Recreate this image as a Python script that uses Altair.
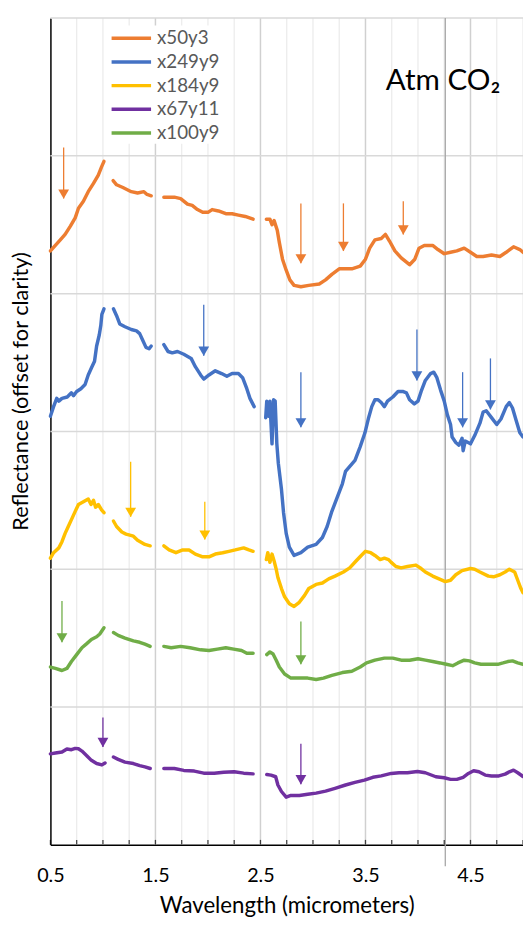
import altair as alt
import pandas as pd

# ---------------- data (wavelength in micrometers, offset reflectance) ----------------
series_names = ["x50y3", "x249y9", "x184y9", "x67y11", "x100y9"]
series_colors = ["#ED7D31", "#4472C4", "#FFC000", "#7030A0", "#70AD47"]

# None marks a gap in the spectrum
x50y3 = [
    (0.50, 4.31), (0.547, 4.35), (0.594, 4.39), (0.64, 4.43), (0.69, 4.49), (0.736, 4.55),
    (0.767, 4.62), (0.814, 4.67), (0.86, 4.74), (0.91, 4.80), (0.956, 4.86), (0.987, 4.92), (1.01, 4.96),
    None,
    (1.097, 4.82), (1.13, 4.79), (1.19, 4.77), (1.27, 4.74), (1.33, 4.73), (1.39, 4.74), (1.42, 4.72), (1.46, 4.71),
    None,
    (1.58, 4.70), (1.68, 4.70), (1.74, 4.69), (1.805, 4.65), (1.85, 4.64), (1.90, 4.61), (1.95, 4.59),
    (2.0, 4.59), (2.04, 4.61), (2.10, 4.60), (2.17, 4.58), (2.23, 4.58), (2.29, 4.57), (2.355, 4.56), (2.43, 4.54),
    None,
    (2.556, 4.54), (2.59, 4.54), (2.61, 4.50), (2.63, 4.53), (2.66, 4.46), (2.68, 4.37), (2.71, 4.25),
    (2.745, 4.17), (2.78, 4.10), (2.82, 4.06), (2.885, 4.05), (2.96, 4.06), (3.06, 4.07), (3.12, 4.10),
    (3.18, 4.14), (3.25, 4.18), (3.31, 4.18), (3.37, 4.18), (3.45, 4.20), (3.50, 4.25), (3.54, 4.33),
    (3.59, 4.39), (3.65, 4.40), (3.69, 4.43), (3.73, 4.38), (3.78, 4.31), (3.84, 4.26), (3.92, 4.21),
    (3.97, 4.25), (4.01, 4.33), (4.06, 4.35), (4.14, 4.35), (4.19, 4.32), (4.25, 4.29), (4.31, 4.30),
    (4.37, 4.31), (4.44, 4.33), (4.50, 4.30), (4.56, 4.27), (4.62, 4.27), (4.70, 4.28), (4.78, 4.27),
    (4.84, 4.30), (4.91, 4.34), (4.97, 4.32), (5.0, 4.30),
]

x249y9 = [
    (0.50, 3.11), (0.53, 3.18), (0.56, 3.24), (0.58, 3.22), (0.61, 3.24), (0.66, 3.25), (0.70, 3.28),
    (0.72, 3.26), (0.75, 3.29), (0.79, 3.31), (0.83, 3.34), (0.86, 3.41), (0.89, 3.46), (0.92, 3.51),
    (0.94, 3.62), (0.965, 3.70), (0.98, 3.77), (0.99, 3.85), (1.01, 3.89),
    None,
    (1.10, 3.89), (1.13, 3.84), (1.16, 3.78), (1.21, 3.76), (1.27, 3.74), (1.32, 3.73), (1.35, 3.71),
    (1.38, 3.66), (1.41, 3.61), (1.44, 3.60), (1.46, 3.62),
    None,
    (1.58, 3.63), (1.62, 3.58), (1.66, 3.57), (1.71, 3.58), (1.77, 3.56), (1.84, 3.53), (1.88, 3.47),
    (1.93, 3.41), (1.96, 3.38), (2.01, 3.41), (2.07, 3.44), (2.13, 3.42), (2.18, 3.40), (2.23, 3.42),
    (2.29, 3.42), (2.33, 3.39), (2.37, 3.31), (2.40, 3.24), (2.44, 3.18),
    None,
    (2.55, 3.10), (2.56, 3.22), (2.58, 3.11), (2.59, 3.22), (2.61, 2.91), (2.625, 3.23), (2.64, 3.22),
    (2.656, 2.91), (2.67, 2.77), (2.70, 2.58), (2.72, 2.41), (2.745, 2.26), (2.775, 2.16), (2.82, 2.10),
    (2.885, 2.12), (2.95, 2.16), (3.03, 2.18), (3.09, 2.23), (3.135, 2.31), (3.18, 2.42), (3.23, 2.52),
    (3.28, 2.62), (3.31, 2.71), (3.355, 2.75), (3.40, 2.79), (3.45, 2.89), (3.495, 2.99), (3.53, 3.10),
    (3.56, 3.18), (3.59, 3.23), (3.62, 3.23), (3.65, 3.21), (3.68, 3.18), (3.71, 3.22), (3.76, 3.25),
    (3.81, 3.29), (3.855, 3.29), (3.89, 3.28), (3.92, 3.23), (3.965, 3.20), (4.0, 3.22), (4.03, 3.29),
    (4.07, 3.37), (4.12, 3.42), (4.15, 3.43), (4.18, 3.39), (4.215, 3.30), (4.25, 3.22), (4.28, 3.12),
    (4.31, 3.05), (4.325, 2.96), (4.36, 2.92), (4.39, 2.90), (4.42, 2.95), (4.43, 2.86), (4.45, 2.93),
    (4.50, 2.91), (4.54, 2.97), (4.59, 3.06), (4.62, 3.14), (4.65, 3.15), (4.70, 3.10), (4.75, 3.05),
    (4.79, 3.09), (4.84, 3.18), (4.87, 3.21), (4.90, 3.17), (4.935, 3.08), (4.97, 2.99), (5.0, 2.96),
]

x184y9 = [
    (0.50, 2.08), (0.53, 2.12), (0.58, 2.155), (0.61, 2.20), (0.64, 2.26), (0.67, 2.31), (0.70, 2.36),
    (0.736, 2.42), (0.767, 2.47), (0.814, 2.49), (0.86, 2.51), (0.887, 2.47), (0.91, 2.50), (0.93, 2.45),
    (0.956, 2.47), (0.987, 2.43), (1.01, 2.41),
    None,
    (1.10, 2.35), (1.13, 2.31), (1.18, 2.27), (1.22, 2.255), (1.29, 2.24), (1.33, 2.21), (1.40, 2.18), (1.45, 2.17),
    None,
    (1.58, 2.17), (1.63, 2.14), (1.695, 2.12), (1.76, 2.14), (1.82, 2.14), (1.88, 2.11), (1.95, 2.09),
    (2.01, 2.09), (2.07, 2.11), (2.14, 2.12), (2.20, 2.13), (2.26, 2.14), (2.34, 2.155), (2.39, 2.14), (2.43, 2.13),
    None,
    (2.556, 2.07), (2.57, 2.12), (2.59, 2.05), (2.61, 2.11), (2.63, 2.06), (2.65, 2.0), (2.666, 1.94),
    (2.70, 1.86), (2.73, 1.80), (2.775, 1.75), (2.82, 1.73), (2.87, 1.76), (2.92, 1.81), (2.96, 1.86),
    (3.03, 1.89), (3.09, 1.90), (3.15, 1.93), (3.21, 1.95), (3.29, 1.98), (3.35, 2.01), (3.41, 2.06),
    (3.46, 2.10), (3.50, 2.13), (3.55, 2.12), (3.59, 2.10), (3.64, 2.07), (3.68, 2.08), (3.72, 2.07),
    (3.745, 2.05), (3.79, 2.02), (3.84, 2.01), (3.90, 2.02), (3.98, 2.03), (4.03, 2.005), (4.07, 1.98),
    (4.14, 1.95), (4.20, 1.93), (4.26, 1.91), (4.31, 1.92), (4.36, 1.96), (4.42, 1.99), (4.50, 2.005),
    (4.54, 2.0), (4.59, 1.98), (4.67, 1.95), (4.72, 1.945), (4.78, 1.96), (4.83, 1.98), (4.87, 2.0),
    (4.92, 1.98), (4.95, 1.92), (4.98, 1.86), (5.0, 1.83),
]

x67y11 = [
    (0.50, 0.66), (0.547, 0.666), (0.61, 0.673), (0.657, 0.695), (0.70, 0.69), (0.736, 0.70), (0.767, 0.697),
    (0.80, 0.68), (0.846, 0.647), (0.89, 0.613), (0.94, 0.59), (0.99, 0.58), (1.02, 0.594),
    None,
    (1.10, 0.637), (1.145, 0.62), (1.21, 0.60), (1.29, 0.59), (1.35, 0.575), (1.40, 0.566), (1.45, 0.554),
    None,
    (1.58, 0.554), (1.68, 0.554), (1.77, 0.54), (1.87, 0.535), (1.96, 0.52), (2.06, 0.52), (2.15, 0.527),
    (2.25, 0.53), (2.34, 0.52), (2.43, 0.515),
    None,
    (2.56, 0.51), (2.60, 0.506), (2.645, 0.494), (2.666, 0.434), (2.70, 0.387), (2.745, 0.346), (2.79, 0.358),
    (2.87, 0.358), (2.95, 0.367), (3.03, 0.375), (3.12, 0.39), (3.21, 0.41), (3.31, 0.434), (3.40, 0.453),
    (3.49, 0.47), (3.57, 0.49), (3.65, 0.50), (3.745, 0.518), (3.82, 0.523), (3.90, 0.523), (3.995, 0.532),
    (4.07, 0.523), (4.17, 0.494), (4.25, 0.487), (4.31, 0.475), (4.37, 0.475), (4.43, 0.49), (4.48, 0.518),
    (4.53, 0.537), (4.58, 0.53), (4.64, 0.506), (4.70, 0.50), (4.77, 0.50), (4.83, 0.513), (4.87, 0.53),
    (4.91, 0.542), (4.95, 0.523), (5.0, 0.496),
]

x100y9 = [
    (0.50, 1.29), (0.547, 1.28), (0.61, 1.265), (0.657, 1.28), (0.70, 1.33), (0.75, 1.38), (0.80, 1.43),
    (0.846, 1.46), (0.89, 1.49), (0.94, 1.51), (0.97, 1.53), (1.01, 1.575),
    None,
    (1.10, 1.54), (1.145, 1.52), (1.21, 1.50), (1.29, 1.48), (1.35, 1.47), (1.40, 1.456), (1.45, 1.44),
    None,
    (1.58, 1.44), (1.65, 1.43), (1.74, 1.44), (1.83, 1.43), (1.93, 1.415), (2.01, 1.41), (2.09, 1.42),
    (2.17, 1.43), (2.245, 1.42), (2.32, 1.41), (2.37, 1.39), (2.43, 1.39),
    None,
    (2.56, 1.38), (2.59, 1.40), (2.62, 1.385), (2.65, 1.34), (2.68, 1.29), (2.73, 1.24), (2.79, 1.21),
    (2.87, 1.21), (2.95, 1.21), (3.03, 1.20), (3.10, 1.21), (3.18, 1.23), (3.28, 1.25), (3.37, 1.26),
    (3.45, 1.29), (3.51, 1.32), (3.59, 1.34), (3.68, 1.355), (3.76, 1.355), (3.84, 1.34), (3.92, 1.34),
    (4.0, 1.35), (4.07, 1.34), (4.14, 1.33), (4.21, 1.32), (4.27, 1.31), (4.33, 1.30), (4.38, 1.32),
    (4.44, 1.34), (4.49, 1.335), (4.54, 1.32), (4.60, 1.31), (4.68, 1.31), (4.76, 1.31), (4.81, 1.32),
    (4.855, 1.33), (4.90, 1.335), (4.95, 1.32), (5.0, 1.31),
]

# arrows: (series, wavelength, top, tip)
arrows = [
    ("x50y3", 0.626, 5.06, 4.69), ("x50y3", 2.885, 4.655, 4.22), ("x50y3", 3.29, 4.655, 4.31),
    ("x50y3", 3.86, 4.67, 4.43),
    ("x249y9", 1.96, 3.92, 3.55), ("x249y9", 2.885, 3.43, 3.03), ("x249y9", 3.99, 3.74, 3.37),
    ("x249y9", 4.425, 3.43, 3.03), ("x249y9", 4.69, 3.53, 3.16),
    ("x184y9", 1.264, 2.78, 2.38), ("x184y9", 1.97, 2.49, 2.215),
    ("x100y9", 0.61, 1.77, 1.47), ("x100y9", 2.885, 1.62, 1.31),
    ("x67y11", 1.0, 0.924, 0.71), ("x67y11", 2.885, 0.733, 0.44),
]

co2_band = [4.26]
x_tick_values = [0.5, 0.75, 1.0, 1.25, 1.5, 1.75, 2.0, 2.25, 2.5, 2.75, 3.0, 3.25, 3.5, 3.75,
                 4.0, 4.25, 4.5, 4.75, 5.0]
x_labeled = [0.5, 1.5, 2.5, 3.5, 4.5]
y_grid = [1, 2, 3, 4, 5, 6]
X_MIN, X_MAX = 0.5, 5.0
Y_MIN, Y_MAX = 0, 6

# ---------------- tables ----------------
rows = []
for name, pts in zip(series_names, [x50y3, x249y9, x184y9, x67y11, x100y9]):
    seg = 0
    for p in pts:
        if p is None:
            seg += 1
            continue
        rows.append({"series": name, "seg": f"{name}-{seg}", "w": p[0], "v": p[1]})
spec_df = pd.DataFrame(rows)

arrow_df = pd.DataFrame(arrows, columns=["series", "w", "v", "v2"])
minor_df = pd.DataFrame({"w": [t for t in x_tick_values if t not in x_labeled and t > X_MIN],
                         "v": Y_MIN, "v2": Y_MAX})
major_df = pd.DataFrame({"w": [t for t in x_labeled if t > X_MIN], "v": Y_MIN, "v2": Y_MAX})
hgrid_df = pd.DataFrame({"w": X_MIN, "w2": X_MAX, "v": y_grid})
co2_df = pd.DataFrame({"w": co2_band, "v": Y_MAX, "v2": -0.155})
tick_df = pd.DataFrame({"w": x_tick_values, "v": Y_MIN})

# ---------------- encodings ----------------
FONT = "Lato"
xs = alt.Scale(domain=[X_MIN, X_MAX], nice=False, zero=False)
ys = alt.Scale(domain=[Y_MIN, Y_MAX], nice=False, zero=False)

x_axis = alt.Axis(
    values=x_tick_values,
    labelExpr="(datum.value * 2) % 2 == 1 ? format(datum.value, '.1f') : ''",
    grid=False, ticks=False, tickSize=0, labelOverlap=False, labelFlush=False,
    domainColor="black", domainWidth=1.5,
    labelFont=FONT, labelFontSize=20, labelColor="black", labelPadding=21,
    title="Wavelength (micrometers)", titleFont=FONT, titleFontSize=22.5,
    titleFontWeight="normal", titleColor="black",
    titleBaseline="alphabetic", titleY=69,
)
y_axis = alt.Axis(
    labels=False, ticks=False, grid=False, domainColor="black", domainWidth=1.5,
    title="Reflectance (offset for clarity)", titleFont=FONT, titleFontSize=22,
    titleFontWeight="normal", titleColor="black",
    titleX=-30, titleY=378, titleAlign="center", titleBaseline="middle", titleAngle=270,
)

X = alt.X("w:Q", scale=xs, axis=x_axis)
Y = alt.Y("v:Q", scale=ys, axis=y_axis)

# wide custom stroke symbol (length 4r) with a small nominal size keeps the rows compact
legend = alt.Legend(
    title=None, orient="none", legendX=59, legendY=7.5,
    symbolType="M-2,0H2", symbolSize=400, symbolStrokeWidth=3.5, symbolOffset=10,
    symbolFillColor="transparent",
    labelFont=FONT, labelFontSize=19, labelColor="#595959", labelOffset=14,
    fillColor="white", padding=1, rowPadding=2.0,
)
C = alt.Color("series:N", scale=alt.Scale(domain=series_names, range=series_colors), legend=legend)

minor = alt.Chart(minor_df).mark_rule(color="#ececec", strokeWidth=1.3).encode(x=X, y=Y, y2="v2:Q")
major = alt.Chart(major_df).mark_rule(color="#d0d0d0", strokeWidth=1.5).encode(x=X, y=Y, y2="v2:Q")
hgrid = alt.Chart(hgrid_df).mark_rule(color="#d9d9d9", strokeWidth=1.5).encode(x=X, x2="w2:Q", y=Y)
co2 = alt.Chart(co2_df).mark_rule(color="#a6a6a6", strokeWidth=1.3).encode(x=X, y=Y, y2="v2:Q")
ticks = alt.Chart(tick_df).mark_tick(color="black", orient="vertical", size=5, thickness=1.3,
                                     yOffset=-2.5).encode(x=X, y=Y)

lines = alt.Chart(spec_df).mark_line(strokeWidth=3.5, strokeJoin="round", strokeCap="round").encode(
    x=X, y=Y, color=C, detail="seg:N", order="w:Q"
)
arrow_stem = alt.Chart(arrow_df).mark_rule(strokeWidth=1.3).encode(x=X, y=Y, y2="v2:Q", color=C)
arrow_head = alt.Chart(arrow_df).mark_point(shape="triangle-down", filled=True, opacity=1, size=120,
                                            yOffset=-4.5).encode(
    x=X, y=alt.Y("v2:Q", scale=ys, axis=y_axis), color=C
)

chart = alt.layer(minor, major, hgrid, co2, ticks, lines, arrow_stem, arrow_head).properties(
    width=479, height=838,
    autosize=alt.AutoSizeParams(type="none"),
    padding={"left": 43, "top": 4, "right": 0, "bottom": 69},
    title=alt.TitleParams(
        text="Atm CO₂", font=FONT, fontSize=30, fontWeight="normal", color="black",
        anchor="start", frame="group", orient="top", offset=0, dx=340, dy=104,
        baseline="alphabetic",
    ),
).configure_view(stroke=None)

chart.save("out.html", embed_options={"renderer": "svg", "actions": False})
